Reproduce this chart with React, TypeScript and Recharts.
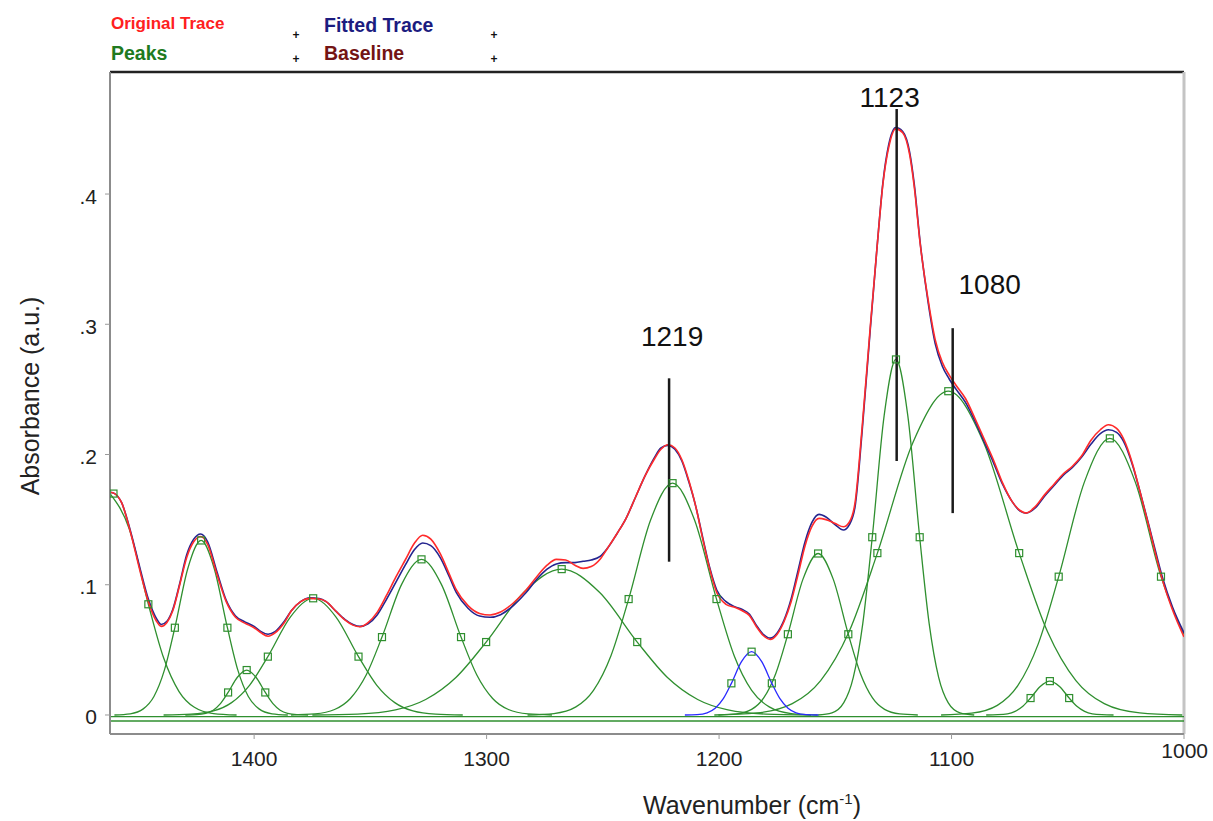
import React from 'react';
import { ComposedChart, Line, Scatter, XAxis, YAxis, ReferenceLine, Legend } from 'recharts';

// ---------- data ----------
const X_DOMAIN: [number, number] = [1000, 1462];
const Y_DOMAIN: [number, number] = [-0.0146, 0.4937];
const xTicks = [1400, 1300, 1200, 1100, 1000];
const yTicks = [0, 0.1, 0.2, 0.3, 0.4];
const yTickLabels = ['0', '.1', '.2', '.3', '.4'];

const originalTrace: [number, number][] = [
  [1462, 0.171], [1460, 0.170], [1457, 0.163], [1453, 0.139], [1449, 0.110], [1445.5, 0.087], [1442, 0.072],
  [1440, 0.068], [1437.5, 0.071], [1435, 0.080], [1432, 0.100], [1429, 0.121], [1426, 0.133], [1423, 0.137],
  [1420, 0.131], [1416, 0.108], [1412, 0.087], [1408, 0.075], [1404, 0.0705], [1400, 0.067], [1397, 0.063],
  [1394, 0.0605], [1391, 0.063], [1387, 0.071], [1384, 0.080], [1380, 0.087], [1376, 0.0895], [1372, 0.089],
  [1369, 0.087], [1365, 0.080], [1361, 0.073], [1357.5, 0.069], [1354.5, 0.0678], [1351, 0.071], [1347, 0.079],
  [1343, 0.092], [1339, 0.106], [1335, 0.119], [1331, 0.132], [1327.5, 0.138], [1324, 0.135], [1320, 0.124],
  [1316, 0.108], [1313, 0.096], [1308, 0.084], [1303, 0.078], [1298.5, 0.0768], [1294, 0.079], [1288.5, 0.086],
  [1283, 0.096], [1278.5, 0.106], [1274, 0.115], [1270, 0.1195], [1266, 0.119], [1262, 0.115], [1258.5, 0.1126],
  [1255, 0.114], [1251, 0.120], [1248, 0.128], [1244, 0.139], [1240, 0.151], [1236, 0.167], [1232, 0.183],
  [1228, 0.196], [1225, 0.204], [1222, 0.2075], [1219, 0.205], [1216, 0.196], [1213, 0.180], [1210, 0.160],
  [1207, 0.135], [1204, 0.112], [1201, 0.094], [1197, 0.085], [1193, 0.0825], [1190, 0.080], [1187, 0.0765],
  [1184, 0.068], [1181, 0.061], [1178, 0.058], [1175, 0.062], [1172, 0.072], [1169, 0.087], [1166, 0.108],
  [1163, 0.130], [1160, 0.145], [1157, 0.151], [1154, 0.150], [1150, 0.147], [1146.5, 0.1445], [1144, 0.148],
  [1141.5, 0.163], [1138.5, 0.220], [1135, 0.297], [1132, 0.360], [1129.5, 0.408], [1127, 0.436], [1124, 0.450],
  [1121, 0.447], [1118, 0.430], [1116, 0.405], [1113.5, 0.362], [1110, 0.318], [1107, 0.288], [1104, 0.271],
  [1101, 0.261], [1098, 0.253], [1094, 0.243], [1090, 0.228], [1086, 0.212], [1082, 0.196], [1078, 0.178],
  [1074, 0.164], [1070.5, 0.157], [1068, 0.155], [1064, 0.160], [1060, 0.169], [1056, 0.177], [1052, 0.185],
  [1048, 0.191], [1044, 0.199], [1040, 0.211], [1036, 0.219], [1032.5, 0.2228], [1029, 0.220], [1026, 0.212],
  [1022, 0.192], [1019, 0.172], [1015, 0.144], [1012, 0.122], [1009, 0.102], [1005, 0.081], [1000, 0.060],
];

const fittedTrace: [number, number][] = [
  [1462, 0.171], [1460, 0.170], [1457, 0.163], [1453, 0.140], [1449, 0.112], [1445.5, 0.089], [1442, 0.074],
  [1440, 0.0695], [1437.5, 0.072], [1435, 0.081], [1432, 0.101], [1429, 0.123], [1426, 0.135], [1423, 0.139],
  [1420, 0.133], [1416, 0.110], [1412, 0.088], [1408, 0.076], [1404, 0.0715], [1400, 0.068], [1397, 0.064],
  [1394, 0.062], [1391, 0.064], [1387, 0.072], [1384, 0.080], [1380, 0.087], [1376, 0.090], [1372, 0.0895],
  [1369, 0.087], [1365, 0.080], [1361, 0.0735], [1357.5, 0.0695], [1354.5, 0.068], [1351, 0.070], [1347, 0.077],
  [1343, 0.089], [1339, 0.102], [1335, 0.115], [1331, 0.127], [1327.5, 0.132], [1324, 0.130], [1320, 0.121],
  [1316, 0.106], [1313, 0.094], [1308, 0.082], [1303, 0.076], [1298.5, 0.075], [1294, 0.077], [1288.5, 0.084],
  [1283, 0.094], [1278.5, 0.104], [1274, 0.112], [1270, 0.116], [1266, 0.117], [1262, 0.117], [1258.5, 0.118],
  [1255, 0.119], [1251, 0.122], [1248, 0.128], [1244, 0.139], [1240, 0.151], [1236, 0.167], [1232, 0.183],
  [1228, 0.197], [1225, 0.205], [1222, 0.207], [1219, 0.204], [1216, 0.195], [1213, 0.179], [1210, 0.160],
  [1207, 0.136], [1204, 0.113], [1201, 0.096], [1197, 0.087], [1193, 0.083], [1190, 0.081], [1187, 0.0775],
  [1184, 0.069], [1181, 0.062], [1178, 0.059], [1175, 0.063], [1172, 0.073], [1169, 0.089], [1166, 0.111],
  [1163, 0.133], [1160, 0.148], [1157, 0.154], [1154, 0.152], [1150, 0.146], [1146.5, 0.142], [1144, 0.146],
  [1141.5, 0.160], [1138.5, 0.217], [1135, 0.295], [1132, 0.360], [1129.5, 0.409], [1127, 0.438], [1124, 0.451],
  [1121, 0.448], [1118, 0.432], [1116, 0.407], [1113.5, 0.363], [1110, 0.316], [1107, 0.285], [1104, 0.268],
  [1101, 0.258], [1098, 0.250], [1094, 0.240], [1090, 0.226], [1086, 0.210], [1082, 0.194], [1078, 0.177],
  [1074, 0.164], [1070.5, 0.1565], [1068, 0.155], [1064, 0.159], [1060, 0.168], [1056, 0.176], [1052, 0.184],
  [1048, 0.190], [1044, 0.198], [1040, 0.208], [1036, 0.216], [1032.5, 0.219], [1029, 0.217], [1026, 0.210],
  [1022, 0.191], [1019, 0.172], [1015, 0.145], [1012, 0.124], [1009, 0.104], [1005, 0.083], [1000, 0.063],
];

const peak1462: [number, number][] = [
  [1462, 0.170], [1453.75, 0.143], [1445.5, 0.085], [1438.9, 0.0437], [1432.3, 0.018], [1425.7, 0.0059],
  [1417.45, 0.0011], [1407.55, 0],
];
const peak1423: [number, number][] = [
  [1460.1, 0], [1453.3, 0.0009], [1447.7, 0.0047], [1443.1, 0.0142], [1438.6, 0.0344], [1434.1, 0.067],
  [1428.5, 0.1127], [1422.8, 0.134], [1417.2, 0.1127], [1411.5, 0.067], [1407.0, 0.0344], [1402.5, 0.0142],
  [1397.9, 0.0047], [1392.3, 0.0009], [1385.5, 0],
];
const peak1403: [number, number][] = [
  [1429.6, 0], [1424.8, 0.0002], [1420.8, 0.0012], [1417.6, 0.0037], [1414.4, 0.0089], [1411.2, 0.0173],
  [1407.2, 0.029], [1403.2, 0.0345], [1399.2, 0.029], [1395.2, 0.0173], [1392, 0.0089], [1388.8, 0.0037],
  [1385.6, 0.0012], [1381.6, 0.0002], [1376.8, 0],
];
const peak1375: [number, number][] = [
  [1438.95, 0], [1427.25, 0.0006], [1417.5, 0.0031], [1409.7, 0.0095], [1401.9, 0.023], [1394.1, 0.0448],
  [1384.35, 0.0754], [1374.6, 0.0896], [1364.85, 0.0754], [1355.1, 0.0448], [1347.3, 0.023], [1339.5, 0.0095],
  [1331.7, 0.0031], [1321.95, 0.0006], [1310.25, 0],
];
const peak1328: [number, number][] = [
  [1384.1, 0], [1373.9, 0.0008], [1365.4, 0.0042], [1358.6, 0.0127], [1351.8, 0.0307], [1345, 0.0598],
  [1336.5, 0.1005], [1328, 0.1195], [1319.5, 0.1005], [1311, 0.0598], [1304.2, 0.0307], [1297.4, 0.0127],
  [1290.6, 0.0042], [1282.1, 0.0008], [1271.9, 0],
];
const peak1268: [number, number][] = [
  [1374.95, 0], [1355.45, 0.0007], [1339.2, 0.0039], [1326.2, 0.0119], [1313.2, 0.0288], [1300.2, 0.056],
  [1283.95, 0.0942], [1267.7, 0.112], [1251.45, 0.0942], [1235.2, 0.056], [1222.2, 0.0288], [1209.2, 0.0119],
  [1196.2, 0.0039], [1179.95, 0.0007], [1160.45, 0],
];
const peak1220: [number, number][] = [
  [1282.37, 0], [1271.03, 0.0011], [1261.58, 0.0062], [1254.02, 0.0189], [1246.46, 0.0457], [1238.9, 0.089],
  [1229.45, 0.1497], [1220, 0.178], [1210.55, 0.1497], [1201.1, 0.089], [1193.54, 0.0457], [1185.98, 0.0189],
  [1178.42, 0.0062], [1168.97, 0.0011], [1157.63, 0],
];
const peak1186: [number, number][] = [
  [1214.71, 0], [1209.49, 0.0003], [1205.14, 0.0017], [1201.66, 0.0052], [1198.18, 0.0125], [1194.7, 0.0243],
  [1190.35, 0.0409], [1186, 0.0486], [1181.65, 0.0409], [1177.3, 0.0243], [1173.82, 0.0125], [1170.34, 0.0052],
  [1166.86, 0.0017], [1162.51, 0.0003], [1157.29, 0],
];
const peak1157: [number, number][] = [
  [1200.3, 0], [1192.5, 0.0008], [1186, 0.0043], [1180.8, 0.0131], [1175.6, 0.0319], [1170.4, 0.062],
  [1163.9, 0.1043], [1157.4, 0.124], [1150.9, 0.1043], [1144.4, 0.062], [1139.2, 0.0319], [1134, 0.0131],
  [1128.8, 0.0043], [1122.3, 0.0008], [1114.5, 0],
];
const peak1124: [number, number][] = [
  [1157.56, 0], [1151.44, 0.0017], [1146.34, 0.0095], [1142.26, 0.0289], [1138.18, 0.0702], [1134.1, 0.1365],
  [1129, 0.2296], [1123.9, 0.273], [1118.8, 0.2296], [1113.7, 0.1365], [1109.62, 0.0702], [1105.54, 0.0289],
  [1101.46, 0.0095], [1096.36, 0.0017], [1090.24, 0],
];
const peak1101: [number, number][] = [
  [1202.05, 0], [1183.75, 0.0016], [1168.5, 0.0087], [1156.3, 0.0264], [1144.1, 0.0639], [1131.9, 0.1243],
  [1116.65, 0.2091], [1101.4, 0.2486], [1086.15, 0.2091], [1070.9, 0.1243], [1058.7, 0.0639], [1046.5, 0.0264],
  [1034.3, 0.0087], [1019.05, 0.0016], [1000.75, 0],
];
const peak1058: [number, number][] = [
  [1085.09, 0], [1080.11, 0.0002], [1075.96, 0.0009], [1072.64, 0.0028], [1069.32, 0.0067], [1066, 0.013],
  [1061.85, 0.0219], [1057.7, 0.026], [1053.55, 0.0219], [1049.4, 0.013], [1046.08, 0.0067], [1042.76, 0.0028],
  [1039.44, 0.0009], [1035.29, 0.0002], [1030.31, 0],
];
const peak1032: [number, number][] = [
  [1104.5, 0], [1091.3, 0.0014], [1080.3, 0.0074], [1071.5, 0.0225], [1062.7, 0.0546], [1053.9, 0.1062],
  [1042.9, 0.1786], [1031.9, 0.2124], [1020.9, 0.1786], [1009.9, 0.1062], [1005, 0.082], [1000, 0.062],
];

const greenPeaks = [peak1462, peak1423, peak1403, peak1375, peak1328, peak1268, peak1220, peak1157, peak1124, peak1101, peak1058, peak1032];
const bluePeak = peak1186;

const peakMarkers: [number, number][] = [
  [1460.5, 0.170], [1445.5, 0.085],
  [1434.1, 0.067], [1422.8, 0.134], [1411.5, 0.067],
  [1411.2, 0.0173], [1403.2, 0.0345], [1395.2, 0.0173],
  [1394.1, 0.0448], [1374.6, 0.0896], [1355.1, 0.0448],
  [1345, 0.0598], [1328, 0.1195], [1311, 0.0598],
  [1300.2, 0.056], [1267.7, 0.112], [1235.2, 0.056],
  [1238.9, 0.089], [1220, 0.178], [1201.1, 0.089],
  [1194.7, 0.0243], [1186, 0.0486], [1177.3, 0.0243],
  [1170.4, 0.062], [1157.4, 0.124], [1144.4, 0.062],
  [1134.1, 0.1365], [1123.9, 0.273], [1113.7, 0.1365],
  [1131.9, 0.1243], [1101.4, 0.2486], [1070.9, 0.1243],
  [1066, 0.013], [1057.7, 0.026], [1049.4, 0.013],
  [1053.9, 0.1062], [1031.9, 0.2124], [1009.9, 0.1062],
];

const baselines = [-0.0013, -0.0046];

const annotations = [
  { label: '1219', x: 1221.5, from: 0.1177, to: 0.2585 },
  { label: '1123', x: 1123.6, from: 0.195, to: 0.4653 },
  { label: '1080', x: 1099.5, from: 0.155, to: 0.297 },
];

const legendLabels = ['Original Trace', 'Fitted Trace', 'Peaks', 'Baseline'];

// ---------- styles ----------
const FONT = '"Liberation Sans", Arial, Helvetica, sans-serif';
const GREEN = '#2f8f2f';
const RED = '#ff2b2b';
const NAVY = '#25258f';
const BLUE = '#2a2aff';
const legendColors = ['#ff2020', '#1c1c80', '#207a20', '#741414'];
const legendPos = [
  { x: 111, y: 29, size: 17 },
  { x: 324, y: 32, size: 19.5 },
  { x: 111, y: 60, size: 19.5 },
  { x: 324, y: 60, size: 19.5 },
];
const plusPos = [[296, 39], [296, 63], [494, 39], [494, 63]];
const annoStyle: Record<string, { dx: number; gap: number }> = {
  '1219': { dx: 3, gap: 32 },
  '1123': { dx: -7, gap: 2 },
  '1080': { dx: 37, gap: 34 },
};

const toPts = (arr: [number, number][]) => arr.map(([x, y]) => ({ x, y }));

const renderXTick = (p: any) => {
  const v = p.payload.value;
  const end = v === 1000;
  return (
    <text
      x={end ? p.x + 24 : p.x}
      y={p.y + (end ? 17 : 25)}
      textAnchor={end ? 'end' : 'middle'}
      fontSize={21}
      fill="#222"
      fontFamily={FONT}
    >
      {v}
    </text>
  );
};

const renderYTick = (p: any) => {
  const idx = yTicks.findIndex((t) => Math.abs(t - p.payload.value) < 1e-9);
  return (
    <text x={p.x} y={p.y + 9.5} textAnchor="end" fontSize={21} fill="#222" fontFamily={FONT}>
      {idx >= 0 ? yTickLabels[idx] : p.payload.value}
    </text>
  );
};

const renderXTitle = () => (
  <text x={643} y={814} textAnchor="start" fontSize={25} fill="#222" fontFamily={FONT}>
    Wavenumber (cm<tspan dy={-10} fontSize={15}>-1</tspan><tspan dy={10}>)</tspan>
  </text>
);

const renderYTitle = () => (
  <text x={30} y={396} transform="rotate(-90, 30, 396)" textAnchor="middle" dominantBaseline="central" fontSize={25} fill="#222" fontFamily={FONT}>
    Absorbance (a.u.)
  </text>
);

const renderSquare = (p: any) => (
  <rect x={p.cx - 3.5} y={p.cy - 3.5} width={7} height={7} fill="none" stroke={GREEN} strokeWidth={1.2} />
);

const renderAnnoLabel = (p: any) => {
  const label = p.payload?.label ?? p.label;
  const s = annoStyle[label] || { dx: 0, gap: 10 };
  return (
    <text x={p.cx + s.dx} y={p.cy - s.gap} textAnchor="middle" fontSize={28} fill="#111" fontFamily={FONT}>
      {label}
    </text>
  );
};

const renderLegend = () => (
  <svg width={520} height={72} style={{ display: 'block' }}>
    {legendLabels.map((t, i) => (
      <text key={t} x={legendPos[i].x} y={legendPos[i].y} fontSize={legendPos[i].size} fontWeight="bold" fill={legendColors[i]} fontFamily={FONT}>
        {t}
      </text>
    ))}
    {plusPos.map(([x, y], i) => (
      <text key={i} x={x} y={y} fontSize={12} fontWeight="bold" textAnchor="middle" fill="#111" fontFamily={FONT}>+</text>
    ))}
  </svg>
);

export default function App() {
  const markerPts = toPts(peakMarkers);
  const annoPts = annotations.map((a) => ({ x: a.x, y: a.to, label: a.label }));
  return (
    <div style={{ position: 'absolute', left: 0, top: 0, width: 1213, height: 821, background: '#fff' }}>
      <ComposedChart width={1213} height={821} margin={{ top: 72, right: 29, bottom: 0, left: 10 }}>
        <XAxis
          type="number"
          dataKey="x"
          domain={X_DOMAIN}
          reversed
          allowDataOverflow
          ticks={xTicks}
          interval={0}
          tickSize={5}
          tickMargin={2}
          height={87}
          axisLine={{ stroke: '#8c8c8c', strokeWidth: 2 }}
          tickLine={{ stroke: '#9a9a9a' }}
          tick={renderXTick}
          label={renderXTitle}
        />
        <YAxis
          type="number"
          domain={Y_DOMAIN}
          allowDataOverflow
          ticks={yTicks}
          interval={0}
          tickSize={5}
          tickMargin={8}
          width={100}
          axisLine={{ stroke: '#8c8c8c', strokeWidth: 2 }}
          tickLine={{ stroke: '#9a9a9a' }}
          tick={renderYTick}
          label={renderYTitle}
        />
        <Legend
          layout="horizontal"
          verticalAlign="middle"
          align="center"
          content={renderLegend}
          wrapperStyle={{ top: 0, left: 0, width: 520, height: 72, margin: 0, padding: 0 }}
        />
        <ReferenceLine y={Y_DOMAIN[1]} stroke="#222" strokeWidth={2.5} ifOverflow="visible" />
        <ReferenceLine x={1000} stroke="#c4c4c4" strokeWidth={3} ifOverflow="visible" />
        {baselines.map((b, i) => (
          <ReferenceLine key={'b' + i} y={b} stroke={GREEN} strokeWidth={1.3} />
        ))}
        {greenPeaks.map((p, i) => (
          <Line key={'p' + i} data={toPts(p)} dataKey="y" type="monotone" stroke={GREEN} strokeWidth={1.3} dot={false} isAnimationActive={false} />
        ))}
        <Line data={toPts(bluePeak)} dataKey="y" type="monotone" stroke={BLUE} strokeWidth={1.3} dot={false} isAnimationActive={false} />
        <Line data={toPts(fittedTrace)} dataKey="y" type="monotone" stroke={NAVY} strokeWidth={1.6} dot={false} isAnimationActive={false} />
        <Line data={toPts(originalTrace)} dataKey="y" type="monotone" stroke={RED} strokeWidth={1.6} dot={false} isAnimationActive={false} />
        <Scatter data={markerPts} dataKey="y" shape={renderSquare} isAnimationActive={false} />
        {annotations.map((a) => (
          <ReferenceLine
            key={a.label}
            segment={[{ x: a.x, y: a.from }, { x: a.x, y: a.to }]}
            stroke="#1a1a1a"
            strokeWidth={2.5}
          />
        ))}
        <Scatter data={annoPts} dataKey="y" shape={renderAnnoLabel} isAnimationActive={false} />
      </ComposedChart>
    </div>
  );
}
